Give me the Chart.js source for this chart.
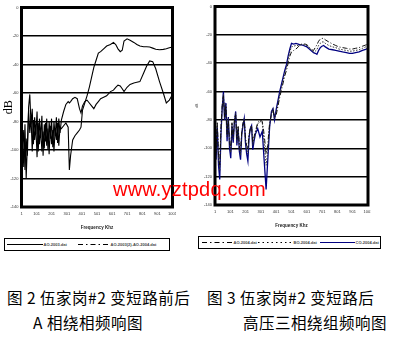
<!DOCTYPE html>
<html>
<head>
<meta charset="utf-8">
<script src="https://cdn.jsdelivr.net/npm/chart.js@4.4.0/dist/chart.umd.min.js"></script>
<style>
  body { margin: 0; background: #fff; width: 393px; height: 339px; overflow: hidden; position: relative; font-family: 'Liberation Sans', Arial, sans-serif; }
  .wrap { position: absolute; }
  .legend { position: absolute; box-sizing: border-box; border: 1.5px solid #000; background: #fff; }
  .legend svg, .legend span { position: absolute; }
  .legend span { font-size: 4px; font-weight: bold; color: #444; line-height: 6px; top: 2.5px; white-space: nowrap; }
  .legend svg { top: 4px; }
  .wm { position: absolute; left: 113px; top: 178px; font-size: 20px; color: #ff0000; letter-spacing: 0.2px; z-index: 5; }
  .cap { position: absolute; font-family: 'Noto Sans CJK SC', sans-serif; font-size: 15.5px; letter-spacing: 0.5px; color: #000; white-space: pre; line-height: 18px; }
</style>
</head>
<body>

<div class="wrap" style="left:0;top:0;width:176px;height:235px"><canvas id="chartLeft"></canvas></div>
<div class="wrap" style="left:193px;top:0;width:178px;height:233px"><canvas id="chartRight"></canvas></div>

<div class="legend" id="legLeft" style="left:4px;top:238px;width:166px;height:13px"></div>
<div class="legend" id="legRight" style="left:198px;top:236px;width:183px;height:13px"></div>

<div class="wm">www.yztpdq.com</div>

<div class="cap" style="left:7px;top:288px">图 2 伍家岗#2 变短路前后</div>
<div class="cap" style="left:33px;top:313px">A 相绕相频响图</div>
<div class="cap" style="left:207px;top:288px">图 3 伍家岗#2 变短路后</div>
<div class="cap" style="left:243px;top:313px">高压三相绕组频响图</div>

<script>
// ── data ──────────────────────────────────────────────────
const X_TICKS = [1, 101, 201, 301, 401, 501, 601, 701, 801, 901, 1001];

// figure 2: phase A, before / after the short circuit
const FREQ_LEFT = [
  1, 8, 16, 24, 32, 40, 48, 56, 64, 72, 80, 88, 96, 104, 112, 120, 128, 136, 144, 152,
  160, 168, 176, 184, 192, 200, 208, 216, 224, 232, 240, 248, 256,
  265, 280, 295, 310, 318, 326, 340, 355, 370, 385, 395, 405, 420, 435, 450, 465, 480, 495,
  510, 525, 545, 565, 590, 610, 625, 640, 655, 668, 680, 700, 720, 745, 765, 785, 810, 830,
  850, 870, 890, 915, 940, 960, 980, 1001,
];
const PHASE_A_BEFORE = [
  -75, -92, -112, -82, -120, -96, -72, -88, -76, -101, -79, -93, -83, -105, -81, -96, -85, -101, -87, -99,
  -81, -97, -85, -103, -83, -96, -86, -101, -85, -93, -81, -97, -84,
  -85, -83, -81, -84, -114, -104, -93, -90, -88, -86, -84, -72, -67, -62, -56, -49, -42, -37,
  -32, -31, -29, -27, -26, -24.5, -26, -29, -31, -30, -23.5, -22, -23, -24.5, -26, -27, -27.5, -27.5,
  -27.7, -28.5, -29.3, -29.6, -29.4, -29, -28.3, -27.7,
];
const PHASE_A_AFTER = [
  -70, -98, -86, -114, -92, -104, -70, -61, -82, -71, -96, -77, -89, -73, -101, -78, -91, -76, -104, -82,
  -94, -78, -100, -80, -92, -78, -98, -80, -90, -77, -95, -78, -88,
  -79, -73, -68, -66, -67, -66, -64, -63, -64, -71, -74, -69, -66, -65, -67, -69, -71, -68,
  -66, -64, -63, -62, -59, -58, -56, -54.5, -55, -57, -59, -56, -54, -53, -52.5, -52, -46, -41,
  -37.5, -38, -43, -52, -60, -67, -65, -61,
];

// figure 3: HV windings, three phases after the short circuit
const FREQ_RIGHT = [
  1, 8, 16, 24, 32, 40, 48, 56, 64, 72, 80, 88, 96, 104, 112, 120, 128, 136, 144, 152,
  160, 168, 176, 184, 192, 200, 208, 216, 224, 232, 240, 248, 256,
  265, 280, 295, 310, 322, 335, 345, 358, 370, 380, 390, 402, 413, 424, 435, 446, 457, 468,
  479, 490, 501, 515, 530, 545, 557, 568, 579, 590, 602, 612, 623, 634, 645, 656, 667, 678,
  689, 700, 711, 722, 745, 770, 790, 811, 835, 860, 880, 899, 920, 943, 965, 985, 1001,
];
const PHASE_A_HV = [
  -75, -100, -82, -105, -112, -85, -70, -63, -78, -70, -90, -80, -95, -100, -82, -92, -80, -76, -94, -84,
  -98, -102, -88, -82, -80, -92, -98, -100, -90, -86, -84, -96, -92,
  -88, -82, -80, -81, -90, -104, -98, -82, -76, -73, -78, -76, -70, -64, -59, -54, -49, -45,
  -40, -35, -32, -31, -30, -28.5, -27, -26.5, -26.5, -26.5, -27, -28, -29.5, -30.5, -31, -29, -27, -24.5,
  -23, -22.5, -22.5, -23.5, -25, -26.5, -27.5, -28.5, -29, -29.5, -30, -30, -29.5, -29, -28, -27.2, -26.5,
];
const PHASE_B_HV = [
  -76, -104, -84, -108, -116, -88, -71, -62, -79, -69, -92, -79, -97, -103, -83, -94, -81, -75, -96, -85,
  -100, -105, -89, -83, -79, -94, -101, -104, -91, -86, -84, -98, -93,
  -89, -83, -81, -82, -96, -112, -103, -84, -75, -72, -79, -74, -68, -62, -57, -52, -47, -43,
  -37, -32, -28.5, -28, -27.5, -27.5, -27, -27, -27, -27, -27.5, -28.5, -30, -31, -32, -31.5, -30.5, -27.5,
  -26, -25, -25, -26, -27.5, -28.5, -29, -30, -30.5, -31, -31.5, -31.5, -31, -30.5, -29.5, -28.5, -28,
];
const PHASE_C_HV = [
  -78, -108, -85, -112, -122, -90, -72, -60, -80, -68, -95, -78, -100, -107, -84, -96, -82, -74, -98, -86,
  -102, -108, -90, -84, -79, -96, -104, -109, -92, -86, -84, -101, -95,
  -90, -86, -92, -88, -108, -129, -110, -85, -74, -72, -80, -72, -66, -60, -55, -50, -45, -41,
  -35, -30, -26, -26.5, -26, -26.5, -27, -27, -27.5, -28, -28.5, -29.5, -30.5, -31.5, -32.5, -33, -33.7, -31,
  -29, -28, -27.5, -28.5, -30, -30.5, -31, -31.4, -32, -32.5, -33, -33, -32.5, -32, -31, -30.2, -29.5,
];

const LABELS_LEFT = ['AO-2003.dat', 'AO-2003(2)-AO-2004.dat'];
const LABELS_RIGHT = ['AO-2004.dat', 'BO-2004.dat', 'CO-2004.dat'];

// ── helpers ───────────────────────────────────────────────
const toPoints = (freq, vals) => freq.map((f, i) => ({ x: f, y: vals[i] }));

// thick black frame round the plot area
const frameBorder = {
  id: 'frameBorder',
  afterDatasetsDraw(chart) {
    const { ctx, chartArea: a } = chart;
    ctx.save();
    ctx.strokeStyle = '#000';
    ctx.lineWidth = 3;
    ctx.strokeRect(a.left, a.top, a.right - a.left, a.bottom - a.top);
    ctx.restore();
  },
};

function scales(yWidth, yTitle) {
  return {
    x: {
      type: 'linear', min: 1, max: 1001,
      afterBuildTicks: s => { s.ticks = X_TICKS.map(v => ({ value: v })); },
      afterFit: s => { s.height = 28; s.paddingLeft = 0; s.paddingRight = 0; },
      ticks: { font: { size: 4 }, color: '#333', padding: 4, maxRotation: 0, autoSkip: false, callback: v => String(v) },
      grid: { display: false, drawTicks: false },
      border: { display: false },
      title: { display: true, text: 'Frequency Khz', color: '#222', font: { size: 4.5, weight: 'bold' }, padding: { top: 0, bottom: 5 } },
    },
    y: {
      min: -140, max: 0,
      afterFit: s => { s.width = yWidth; },
      ticks: { stepSize: 20, font: { size: 4 }, color: '#333', padding: 3 },
      grid: { color: '#000', lineWidth: 1.5, drawTicks: false },
      border: { display: false },
      title: yTitle,
    },
  };
}

const BASE_OPTS = {
  responsive: true,
  maintainAspectRatio: false,
  animation: false,
  events: [],
  plugins: { legend: { display: false }, tooltip: { enabled: false } },
  elements: { point: { radius: 0 }, line: { tension: 0 } },
};

// ── figure 2 ──────────────────────────────────────────────
const leftSets = [
  { label: LABELS_LEFT[0], data: toPoints(FREQ_LEFT, PHASE_A_BEFORE), borderColor: '#000', borderWidth: 1.1 },
  { label: LABELS_LEFT[1], data: toPoints(FREQ_LEFT, PHASE_A_AFTER), borderColor: '#000', borderWidth: 1.1 },
];
new Chart(document.getElementById('chartLeft'), {
  type: 'line',
  data: { datasets: leftSets },
  options: {
    ...BASE_OPTS,
    layout: { padding: { top: 7.5, right: 3.5, left: 0, bottom: 0 } },
    scales: scales(21.5, { display: true, text: 'dB', color: '#000', font: { family: 'Liberation Serif', size: 12 }, padding: { top: 2, bottom: 0 } }),
  },
  plugins: [frameBorder],
});

// ── figure 3 ──────────────────────────────────────────────
const rightSets = [
  { label: LABELS_RIGHT[0], data: toPoints(FREQ_RIGHT, PHASE_A_HV), borderColor: '#111', borderWidth: 1, borderDash: [5, 2, 1, 2] },
  { label: LABELS_RIGHT[1], data: toPoints(FREQ_RIGHT, PHASE_B_HV), borderColor: '#333', borderWidth: 1, borderDash: [1.5, 1.5] },
  { label: LABELS_RIGHT[2], data: toPoints(FREQ_RIGHT, PHASE_C_HV), borderColor: '#000080', borderWidth: 1.3 },
];
new Chart(document.getElementById('chartRight'), {
  type: 'line',
  data: { datasets: rightSets },
  options: {
    ...BASE_OPTS,
    layout: { padding: { top: 6.5, right: 3, left: 0, bottom: 0 } },
    scales: scales(22, { display: true, text: 'dB', color: '#444', font: { size: 3.5 }, padding: { top: 2, bottom: 0 } }),
  },
  plugins: [frameBorder],
});

// ── legend boxes under each plot ──────────────────────────
function legendItem(box, left, width, label, color, dash, lw) {
  const svg = document.createElementNS('http://www.w3.org/2000/svg', 'svg');
  svg.setAttribute('width', width);
  svg.setAttribute('height', 3);
  svg.style.left = left + 'px';
  svg.innerHTML = `<line x1="0" y1="1.5" x2="${width}" y2="1.5" stroke="${color}" stroke-width="${lw}" stroke-dasharray="${dash}"/>`;
  box.appendChild(svg);
  const span = document.createElement('span');
  span.textContent = label;
  span.style.left = (left + width + 1) + 'px';
  box.appendChild(span);
}
const legL = document.getElementById('legLeft');
legendItem(legL, 1.5, 36, LABELS_LEFT[0], '#000', 'none', 1);
legendItem(legL, 72.5, 32, LABELS_LEFT[1], '#000', '5 3 1.5 3', 1);
const legR = document.getElementById('legRight');
legendItem(legR, 2.5, 31, LABELS_RIGHT[0], '#000', '5 3 1.5 3', 1);
legendItem(legR, 58.5, 35, LABELS_RIGHT[1], '#000', '1.5 3', 1);
legendItem(legR, 120.5, 35, LABELS_RIGHT[2], '#000080', 'none', 1.2);
</script>
</body>
</html>
